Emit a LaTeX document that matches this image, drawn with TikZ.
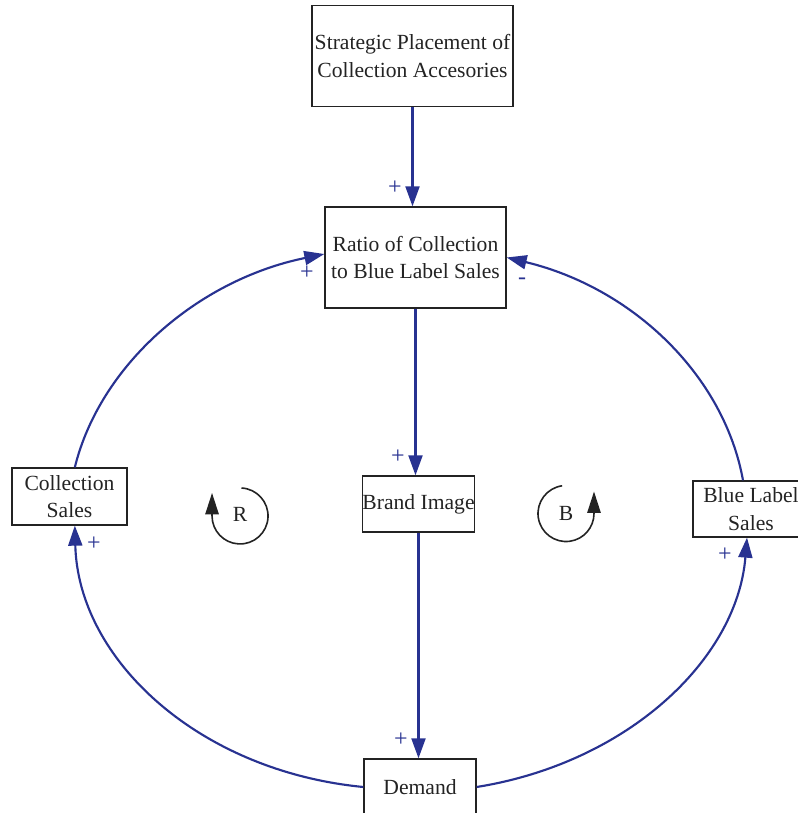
\documentclass[tikz,border=0pt]{standalone}
\usepackage{fontspec}
\setmainfont{Liberation Serif}
\usetikzlibrary{arrows.meta}
\definecolor{linkblue}{RGB}{40,50,145}
\definecolor{boxgray}{RGB}{35,35,35}
\tikzset{
  box/.style={draw=boxgray, line width=1pt, inner sep=0pt, align=center, text=boxgray,
    font=\fontsize{16.2pt}{20.5pt}\selectfont},
  link/.style={draw=linkblue, line width=1.6pt, -{Triangle[length=15pt,width=10.5pt]}},
  sign/.style={text=linkblue, inner sep=0pt, font=\fontsize{18pt}{20pt}\selectfont},
  loopline/.style={draw=boxgray, line width=1.2pt, -{Triangle[length=16pt,width=10pt]}},
  looplabel/.style={inner sep=0pt, text=boxgray, font=\fontsize{16.2pt}{20pt}\selectfont}
}
\begin{document}
\begin{tikzpicture}[x=0.75pt,y=0.75pt]
\useasboundingbox (0,0) rectangle (798,813);
% boxes
\node[box, minimum width=150.75pt, minimum height=75.75pt] (strat) at (412.5,757) {Strategic Placement of\\Collection Accesories};
\node[box, minimum width=135.75pt, minimum height=75.75pt] (ratio) at (415.5,555.5) {Ratio of Collection\\to Blue Label Sales};
\node[box, minimum width=83.25pt, minimum height=42pt] (brand) at (418.5,309) {Brand Image};
\node[box, minimum width=86.25pt, minimum height=42.75pt] (coll) at (69.5,316.5) {Collection\\Sales};
\node[box, minimum width=87pt, minimum height=42pt] (blue) at (751,304) {Blue Label\\Sales};
\node[box, minimum width=84pt, minimum height=42pt] (demand) at (420,26) {Demand};
% straight links
\draw[link] (strat.south) -- (strat.south |- ratio.north);
\draw[link] (ratio.south) -- (ratio.south |- brand.north);
\draw[link] (brand.south) -- (brand.south |- demand.north);
% curved links
\draw[link] (demand.west) .. controls (198,42) and (78,154) .. ([xshift=4pt]coll.south);
\draw[link] ([xshift=4pt]coll.north) .. controls (100,448) and (197.5,533) .. ([yshift=2.6pt]ratio.west);
\draw[link] (demand.east) .. controls (627,50) and (737,153) .. ([xshift=-3pt]blue.south);
\draw[link] ([xshift=-6pt]blue.north) .. controls (724,437.5) and (633,525) .. (ratio.east);
% polarity signs
\node[sign] (s1) at (395,625) {+};
\node[sign] (s2) at (307,540) {+};
\node[sign] (s3) at (522,532) {-};
\node[sign] (s4) at (398,356) {+};
\node[sign] (s5) at (94,269) {+};
\node[sign] (s6) at (725,258) {+};
\node[sign] (s7) at (401,73) {+};
% loop symbols
\node[looplabel] (R) at (240,299) {R};
\draw[loopline] (241.5,325) arc[start angle=87, end angle=-180, radius=28] -- ++(0,23);
\node[looplabel] (B) at (566,299.5) {B};
\draw[loopline] (562.1,327.2) arc[start angle=98, end angle=360, radius=28] -- ++(0,22);
\end{tikzpicture}
\end{document}
